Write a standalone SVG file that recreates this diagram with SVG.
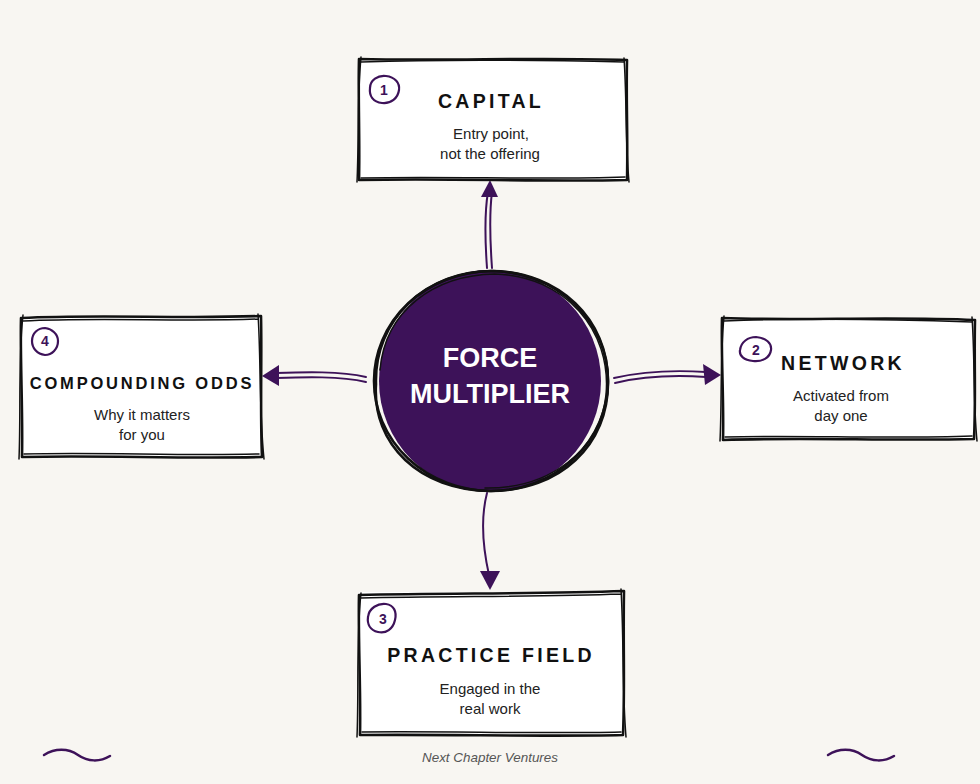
<svg xmlns="http://www.w3.org/2000/svg" width="980" height="784" viewBox="0 0 980 784">
<defs>
<style>
.bg{fill:#f8f6f2}
.box{fill:#ffffff;stroke:none}
.sk{fill:none;stroke:#111;stroke-width:2.6;stroke-linejoin:round;stroke-linecap:round}
.sk2{fill:none;stroke:#111;stroke-width:1.5;stroke-linecap:round}
.badge{fill:none;stroke:#3d1259;stroke-width:2.2;stroke-linejoin:round}
.bnum{font-family:"Liberation Sans",Arial,sans-serif;font-size:14px;font-weight:bold;fill:#3d1259;text-anchor:middle}
.title{font-family:"Liberation Sans",Arial,sans-serif;font-size:19.5px;font-weight:bold;fill:#111;text-anchor:middle;letter-spacing:3.3px}
.sub{font-family:"Liberation Sans",Arial,sans-serif;font-size:15px;fill:#222;text-anchor:middle}
.conn{fill:none;stroke:#3d1259;stroke-width:2;stroke-linecap:round}
.ah{fill:#3d1259}
.wave{fill:none;stroke:#3d1259;stroke-width:2.5;stroke-linecap:round}
</style>
</defs>
<rect class="bg" x="0" y="0" width="980" height="784"/>

<g id="connectors">
  <g id="c-up">
    <path class="conn" d="M487 268 C485 240 484 215 488 192"/>
    <path class="conn" d="M492 268 C490 240 489 215 492 192"/>
    <polygon class="ah" points="490,180 481,197 498,197"/>
  </g>
  <g id="c-right">
    <path class="conn" d="M614 378 C640 372 675 370 706 372"/>
    <path class="conn" d="M615 383 C640 377 675 375 706 377"/>
    <polygon class="ah" points="721,375 703,364 705,385"/>
  </g>
  <g id="c-left">
    <path class="conn" d="M366 377 C340 371 305 372 276 373"/>
    <path class="conn" d="M366 382 C340 376 305 377 276 378"/>
    <polygon class="ah" points="262,376 279,365 279,386"/>
  </g>
  <g id="c-down">
    <path class="conn" d="M487 493 C480 520 483 548 489 575" stroke-width="2.5"/>
    <polygon class="ah" points="490,590 480,571 500,571"/>
  </g>
</g>

<g id="center">
  <circle cx="490" cy="381" r="111" fill="#3d1259"/>
  <ellipse cx="491" cy="381" rx="117" ry="110" class="sk" stroke-width="3"/>
  <path class="sk" d="M376 384 C374 320 425 272 492 271 C560 272 608 320 608 381 C609 445 560 491 490 491 C420 490 372 445 376 384" stroke-width="2.2"/>
  <path class="sk2" d="M380 370 C385 310 435 275 495 274 C565 276 612 330 606 395 C600 450 550 489 485 488"/>
  <text x="490" y="367" font-family="'Liberation Sans',Arial,sans-serif" font-size="27" font-weight="bold" fill="#fff" text-anchor="middle">FORCE</text>
  <text x="490" y="403" font-family="'Liberation Sans',Arial,sans-serif" font-size="27" font-weight="bold" fill="#fff" text-anchor="middle">MULTIPLIER</text>
</g>

<g id="capital">
  <rect class="box" x="359" y="59" width="268" height="121"/>
  <path class="sk" d="M359 59 C450 61 540 57 627 60 C626 100 628 140 627 180 C540 182 450 178 359 180 C360 140 358 100 359 59 Z"/>
  <path class="sk2" d="M361 62 C450 59 540 60 624 62 M624 58 C627 100 625 140 629 182 M625 177 C540 180 450 176 361 178 M357 182 C359 140 357 100 361 57"/>
  <path class="badge" d="M370 88 C370 80 378 75 386 76 C395 77 400 83 399 90 C398 98 391 104 382 103 C373 102 369 96 370 88 Z"/>
  <text class="bnum" x="384" y="95">1</text>
  <text class="title" x="491" y="108">CAPITAL</text>
  <text class="sub" x="491" y="139">Entry point,</text>
  <text class="sub" x="490" y="159">not the offering</text>
</g>

<g id="network">
  <rect class="box" x="722" y="318" width="253" height="122"/>
  <path class="sk" d="M722 318 C800 321 890 316 975 320 C974 360 976 400 974 439 C890 441 800 437 723 440 C724 400 721 360 722 318 Z"/>
  <path class="sk2" d="M724 321 C800 318 890 319 972 322 M972 317 C975 360 973 400 977 441 M972 436 C890 439 800 435 725 437 M720 441 C722 400 720 360 724 316"/>
  <path class="badge" d="M740 350 C741 342 748 337 756 337 C766 338 772 343 771 350 C770 358 762 362 753 361 C744 360 739 356 740 350 Z"/>
  <text class="bnum" x="756" y="355">2</text>
  <text class="title" x="843" y="370">NETWORK</text>
  <text class="sub" x="841" y="401">Activated from</text>
  <text class="sub" x="841" y="421">day one</text>
</g>

<g id="compounding">
  <rect class="box" x="21" y="316" width="241" height="142"/>
  <path class="sk" d="M21 318 C100 314 180 319 261 316 C262 360 260 410 262 457 C180 459 100 455 22 457 C23 410 20 360 21 318 Z"/>
  <path class="sk2" d="M23 321 C100 317 180 322 258 319 M258 314 C261 360 259 410 264 459 M259 454 C180 456 100 452 24 454 M19 459 C21 410 18 360 23 315"/>
  <path class="badge" d="M32 341 C32 333 38 328 45 328 C52 329 58 334 58 341 C58 349 52 355 45 355 C37 354 32 348 32 341 Z"/>
  <text class="bnum" x="45" y="346">4</text>
  <text class="title" x="142" y="389" style="font-size:16.5px;letter-spacing:2.8px">COMPOUNDING ODDS</text>
  <text class="sub" x="142" y="420">Why it matters</text>
  <text class="sub" x="142" y="440">for you</text>
</g>

<g id="practice">
  <rect class="box" x="359" y="592" width="265" height="143"/>
  <path class="sk" d="M359 595 C450 593 540 594 624 591 C623 640 625 690 623 735 C540 737 450 734 360 735 C361 690 358 640 359 595 Z"/>
  <path class="sk2" d="M361 598 C450 596 540 597 621 594 M621 589 C624 640 622 690 626 737 M621 732 C540 734 450 731 362 732 M357 737 C359 690 356 640 361 593"/>
  <path class="badge" d="M368 617 C369 608 378 603 386 604 C394 605 397 612 395 620 C393 629 386 634 378 632 C370 630 367 624 368 617 Z"/>
  <text class="bnum" x="383" y="624">3</text>
  <text class="title" x="491" y="662">PRACTICE FIELD</text>
  <text class="sub" x="490" y="694">Engaged in the</text>
  <text class="sub" x="490" y="714">real work</text>
</g>

<g id="footer">
  <path class="wave" d="M44 755 C55 748 68 748 78 755 C88 762 100 762 110 756"/>
  <path class="wave" d="M828 755 C839 748 852 748 862 755 C872 762 884 762 894 756"/>
  <text x="490" y="762" font-family="'Liberation Sans',Arial,sans-serif" font-size="13" font-style="italic" fill="#555" text-anchor="middle" textLength="136" lengthAdjust="spacingAndGlyphs">Next Chapter Ventures</text>
</g>
</svg>
